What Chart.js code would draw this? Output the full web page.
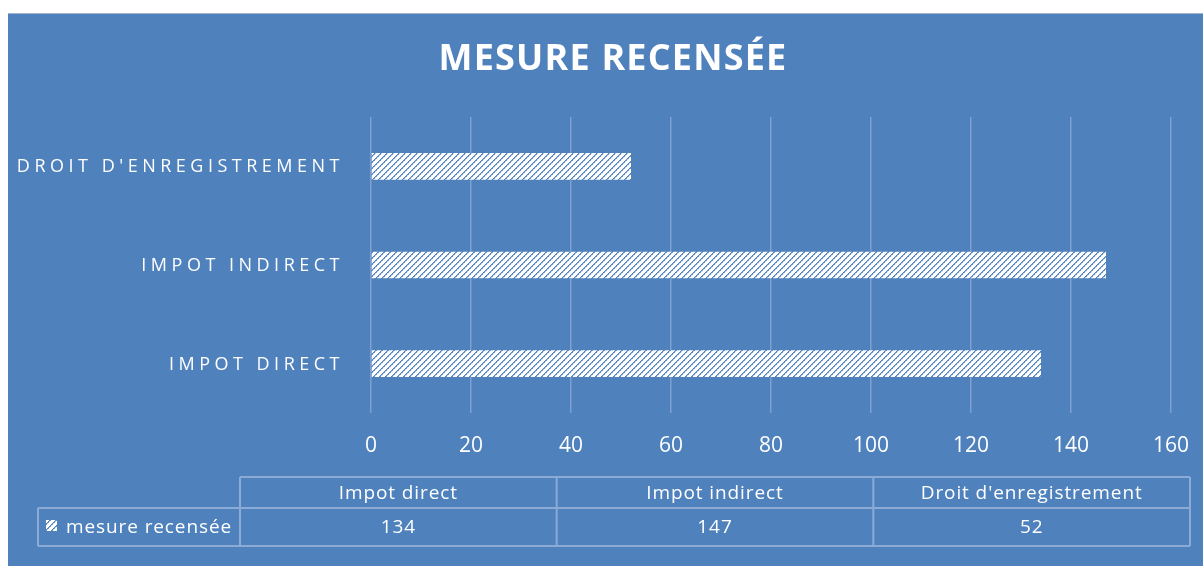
<!DOCTYPE html>
<html>
<head>
<meta charset="utf-8">
<script src="https://cdn.jsdelivr.net/npm/chart.js@4/dist/chart.umd.min.js"></script>
<style>
  html, body { margin: 0; padding: 0; background: #ffffff; overflow: hidden; }
  canvas { display: block; }
</style>
</head>
<body>
<canvas id="c" width="1203" height="566"></canvas>
<script>
// Chart content
const chartTitle = 'MESURE RECENSÉE';
const seriesName = 'mesure recensée';
const categories = ['Impot direct', 'Impot indirect', "Droit d'enregistrement"];
const values = [134, 147, 52];
const xTicks = [0, 20, 40, 60, 80, 100, 120, 140, 160];

// Palette
const BLUE = '#4F81BD';
const GRID = '#7E9FD0';
const TABLE_LINE = '#8CAAD6';
const FONT = '"Open Sans", "DejaVu Sans", sans-serif';

const canvas = document.getElementById('c');
const ctx = canvas.getContext('2d');

// Diagonal hatch fill used by the bars and the legend key
function makeHatch() {
  const t = document.createElement('canvas');
  t.width = 6; t.height = 6;
  const g = t.getContext('2d');
  g.fillStyle = '#ffffff';
  g.fillRect(0, 0, 6, 6);
  for (let x = 0; x < 6; x++) {
    for (let y = 0; y < 6; y++) {
      const d = (x + y) % 6;
      if (d === 5) { g.fillStyle = BLUE; g.fillRect(x, y, 1, 1); }
      else if (d === 0 && (x % 2 === 0)) { g.fillStyle = '#6F97CB'; g.fillRect(x, y, 1, 1); }
      else if (d === 0) { g.fillStyle = '#B3C8E6'; g.fillRect(x, y, 1, 1); }
    }
  }
  return ctx.createPattern(t, 'repeat');
}
const hatch = makeHatch();

// Blue panel behind everything
const panelPlugin = {
  id: 'panel',
  beforeDraw(chart) {
    const c = chart.ctx;
    c.save();
    c.fillStyle = '#ffffff';
    c.fillRect(0, 0, chart.width, chart.height);
    c.fillStyle = BLUE;
    c.fillRect(8, 13, chart.width - 8, chart.height - 13);
    c.fillStyle = '#A3B5CF';
    c.fillRect(8, 13, chart.width - 8, 1);
    c.restore();
  }
};

// Title, spaced category labels and the data table
const decorPlugin = {
  id: 'decor',
  afterDraw(chart) {
    const c = chart.ctx;
    const yScale = chart.scales.y;
    c.save();

    // Title
    c.fillStyle = '#ffffff';
    c.font = 'bold 36px ' + FONT;
    c.textAlign = 'center';
    c.textBaseline = 'middle';
    c.letterSpacing = '1.2px';
    c.fillText(chartTitle, 613, 60);

    // Category labels (upper case, letter-spaced)
    c.font = '18px ' + FONT;
    c.letterSpacing = '4.5px';
    c.textAlign = 'right';
    categories.forEach((cat, i) => {
      c.fillText(cat.toUpperCase(), 344, yScale.getPixelForValue(i) + 1);
    });

    // Data table
    const left = 240, right = 1190;
    const legendLeft = 38;
    const rowTop = 477, rowMid = 508, rowBot = 546;
    const colW = (right - left) / categories.length;
    c.strokeStyle = TABLE_LINE;
    c.lineWidth = 2;
    c.beginPath();
    c.moveTo(left, rowTop); c.lineTo(right, rowTop);
    c.moveTo(legendLeft, rowMid); c.lineTo(right, rowMid);
    c.moveTo(legendLeft, rowBot); c.lineTo(right, rowBot);
    c.moveTo(legendLeft, rowMid); c.lineTo(legendLeft, rowBot);
    for (let i = 0; i <= categories.length; i++) {
      const x = left + i * colW;
      c.moveTo(x, rowTop); c.lineTo(x, rowBot);
    }
    c.stroke();

    c.font = '19px ' + FONT;
    c.letterSpacing = '0.9px';
    c.textAlign = 'center';
    c.fillStyle = '#ffffff';
    categories.forEach((cat, i) => {
      const cx = left + (i + 0.5) * colW;
      c.fillText(cat, cx, (rowTop + rowMid) / 2 + 1);
      c.fillText(String(values[i]), cx, (rowMid + rowBot) / 2 + 1);
    });

    // Legend key + series name
    c.fillStyle = hatch;
    c.fillRect(46, 520, 11, 11);
    c.fillStyle = '#ffffff';
    c.textAlign = 'left';
    c.fillText(seriesName, 66, (rowMid + rowBot) / 2 + 1);

    c.restore();
  }
};

new Chart(canvas, {
  type: 'bar',
  data: {
    labels: categories,
    datasets: [{
      label: seriesName,
      data: values,
      backgroundColor: hatch,
      borderWidth: 0,
      categoryPercentage: 1,
      barPercentage: 0.27
    }]
  },
  options: {
    indexAxis: 'y',
    responsive: false,
    animation: false,
    events: [],
    layout: { padding: { left: 371, right: 32, top: 117, bottom: 0 } },
    plugins: {
      legend: { display: false },
      title: { display: false },
      tooltip: { enabled: false }
    },
    scales: {
      y: {
        display: false,
        reverse: true
      },
      x: {
        position: 'bottom',
        min: xTicks[0],
        max: xTicks[xTicks.length - 1],
        afterFit(scale) {
          scale.height = 153;
          scale.paddingLeft = 0;
          scale.paddingRight = 0;
        },
        ticks: {
          stepSize: xTicks[1] - xTicks[0],
          color: '#ffffff',
          font: { family: FONT, size: 21 },
          padding: 20,
          maxRotation: 0
        },
        grid: { color: GRID, lineWidth: 1.5, drawTicks: false },
        border: { display: false }
      }
    }
  },
  plugins: [panelPlugin, decorPlugin]
});
</script>
</body>
</html>
